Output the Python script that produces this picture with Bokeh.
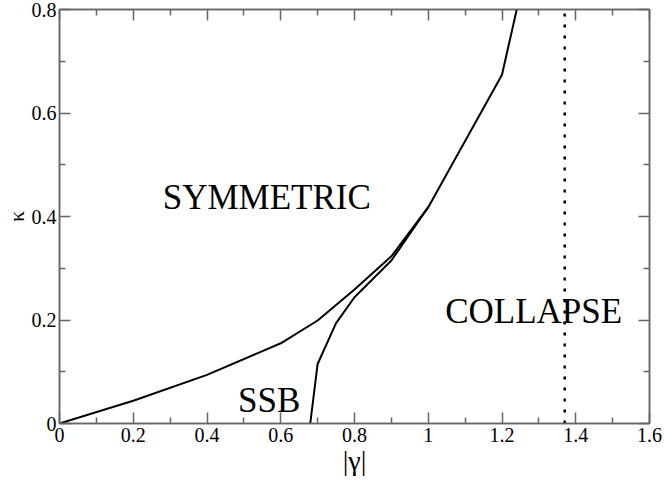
from bokeh.plotting import figure
from bokeh.models import (FixedTicker, LinearAxis, Label, Range1d,
                          CustomJSTickFormatter)
from bokeh.embed import file_html
from bokeh.resources import INLINE

# ---- data ----
# upper boundary (symmetric state loses stability / collapse)
upper_gamma = [0.0, 0.2, 0.4, 0.6, 0.7, 0.8, 0.9, 1.0, 1.2, 1.24]
upper_kappa = [0.0, 0.044, 0.094, 0.155, 0.199, 0.259, 0.323, 0.418, 0.674, 0.8]
# lower boundary (SSB -> collapse)
lower_gamma = [0.68, 0.70, 0.75, 0.80, 0.90, 1.0]
lower_kappa = [0.0, 0.115, 0.194, 0.244, 0.315, 0.418]
# collapse threshold (dotted vertical line)
collapse_gamma = 1.37

x_ticks = [0, 0.2, 0.4, 0.6, 0.8, 1.0, 1.2, 1.4, 1.6]
x_tick_labels = ["0", "0.2", "0.4", "0.6", "0.8", "1", "1.2", "1.4", "1.6"]
y_ticks = [0, 0.2, 0.4, 0.6, 0.8]
y_tick_labels = ["0", "0.2", "0.4", "0.6", "0.8"]
x_minor = [0.1, 0.3, 0.5, 0.7, 0.9, 1.1, 1.3, 1.5]
y_minor = [0.1, 0.3, 0.5, 0.7]

region_labels = ["SYMMETRIC", "SSB", "COLLAPSE"]
x_title = "|γ|"
y_title = "κ"

FONT = "Liberation Serif"
AXC = "#666666"

p = figure(width=664, height=483, output_backend="svg", toolbar_location=None,
           x_range=Range1d(0, 1.6), y_range=Range1d(0, 0.8),
           min_border_left=57, min_border_right=15, min_border_top=9,
           min_border_bottom=60)
p.grid.visible = False
p.outline_line_color = AXC
p.outline_line_width = 1.5
p.background_fill_color = "white"
p.border_fill_color = "white"

xt = FixedTicker(ticks=x_ticks, minor_ticks=x_minor)
yt = FixedTicker(ticks=y_ticks, minor_ticks=y_minor)


def style_axis(ax, ticker):
    ax.ticker = ticker
    ax.axis_line_color = AXC
    ax.axis_line_width = 1.5
    ax.major_tick_line_color = AXC
    ax.minor_tick_line_color = AXC
    ax.major_tick_line_width = 1.5
    ax.minor_tick_line_width = 1.5
    ax.major_tick_in = 11
    ax.major_tick_out = 0
    ax.minor_tick_in = 6
    ax.minor_tick_out = 0
    ax.major_label_text_font = FONT
    ax.major_label_text_font_size = "20px"
    ax.major_label_text_color = "black"


xa = p.xaxis[0]
ya = p.yaxis[0]
style_axis(xa, xt)
style_axis(ya, yt)
xa.major_label_overrides = dict(zip(x_ticks, x_tick_labels))
ya.major_label_overrides = dict(zip(y_ticks, y_tick_labels))
xa.major_label_standoff = 4
ya.major_label_standoff = 3

xa.axis_label = x_title
xa.axis_label_text_font = FONT
xa.axis_label_text_font_size = "28px"
xa.axis_label_text_font_style = "normal"
xa.axis_label_text_color = "black"
xa.axis_label_standoff = 0

ya.axis_label = y_title
ya.axis_label_text_font = FONT
ya.axis_label_text_font_size = "22px"
ya.axis_label_text_font_style = "normal"
ya.axis_label_text_color = "black"
ya.axis_label_standoff = 0

blank = CustomJSTickFormatter(code="return ''")
top = LinearAxis()
right = LinearAxis()
style_axis(top, xt)
style_axis(right, yt)
for ax in (top, right):
    ax.formatter = blank
    ax.major_label_standoff = 0
    ax.major_label_text_font_size = "1px"
p.add_layout(top, "above")
p.add_layout(right, "right")

# curves
p.line(upper_gamma, upper_kappa, line_color="black", line_width=2)
p.line(lower_gamma, lower_kappa, line_color="black", line_width=2)
p.line([collapse_gamma, collapse_gamma], [y_ticks[0], y_ticks[-1]],
       line_color="black", line_width=2.5, line_dash="3 8")

# region labels
for txt, x, y in zip(region_labels, [0.28, 0.484, 1.046], [0.436, 0.044, 0.217]):
    p.add_layout(Label(x=x, y=y, text=txt, text_font=FONT,
                       text_font_size="35px", text_color="black",
                       text_align="left", text_baseline="alphabetic"))

open("out.html", "w").write(file_html(p, INLINE))
